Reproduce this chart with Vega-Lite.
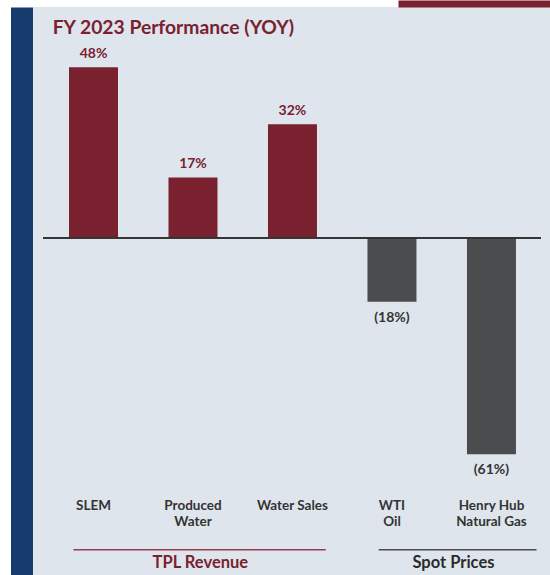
{
  "$schema": "https://vega.github.io/schema/vega-lite/v6.json",
  "width": 517,
  "height": 568,
  "autosize": {"type": "none"},
  "padding": {"left": 33, "top": 7, "right": 0, "bottom": 0},
  "background": "white",
  "config": {"view": {"fill": "#dfe5ed", "stroke": null}, "font": "Lato"},
  "datasets": {
    "bars": [
      {"metric": "SLEM", "name": "SLEM", "value": 48, "label": "48%", "group": "TPL Revenue"},
      {"metric": "Produced Water", "name": "Produced\nWater", "value": 17, "label": "17%", "group": "TPL Revenue"},
      {"metric": "Water Sales", "name": "Water Sales", "value": 32, "label": "32%", "group": "TPL Revenue"},
      {"metric": "WTI Oil", "name": "WTI\nOil", "value": -18, "label": "(18%)", "group": "Spot Prices"},
      {"metric": "Henry Hub Natural Gas", "name": "Henry Hub\nNatural Gas", "value": -61, "label": "(61%)", "group": "Spot Prices"}
    ],
    "groups": [
      {"group": "TPL Revenue", "first": "SLEM", "middle": "Produced Water", "last": "Water Sales"},
      {"group": "Spot Prices", "first": "WTI Oil", "middle": "WTI Oil", "last": "Henry Hub Natural Gas"}
    ],
    "heading": [
      {"anchor": "SLEM", "text": "FY 2023 Performance (YOY)"}
    ]
  },
  "layer": [
    {
      "data": {"name": "bars"},
      "mark": {"type": "bar"},
      "encoding": {
        "x": {
          "field": "metric",
          "type": "nominal",
          "sort": null,
          "scale": {
            "domain": ["SLEM", "Produced Water", "Water Sales", "WTI Oil", "Henry Hub Natural Gas"],
            "paddingInner": 0.5075,
            "paddingOuter": 0.352,
            "align": 0.514
          },
          "axis": {
            "orient": "top",
            "values": ["Henry Hub Natural Gas"],
            "labels": false,
            "domain": false,
            "grid": false,
            "title": null,
            "ticks": true,
            "tickSize": 7,
            "tickWidth": 152,
            "tickColor": "#7a2130",
            "tickOffset": -17.5
          }
        },
        "y": {
          "field": "value",
          "type": "quantitative",
          "scale": {"domain": [-95, 65], "nice": false, "zero": false},
          "axis": {
            "labels": false,
            "ticks": false,
            "grid": false,
            "title": null,
            "domainColor": "#163b6c",
            "domainWidth": 22,
            "offset": 11.5
          }
        },
        "color": {
          "field": "group",
          "type": "nominal",
          "scale": {"domain": ["TPL Revenue", "Spot Prices"], "range": ["#7a2130", "#4b4c4e"]},
          "legend": null
        }
      }
    },
    {
      "data": {"name": "heading"},
      "mark": {"type": "text", "align": "left", "baseline": "alphabetic", "fontSize": 19.3, "fontWeight": "bold", "color": "#7a2130", "font": "Lato"},
      "encoding": {
        "x": {"field": "anchor", "type": "nominal", "sort": null, "bandPosition": -0.333},
        "y": {"datum": 57.3},
        "text": {"field": "text"}
      }
    },
    {
      "data": {"name": "bars"},
      "transform": [{"filter": "datum.value >= 0"}],
      "mark": {"type": "text", "baseline": "alphabetic", "dy": -9, "fontSize": 14, "fontWeight": "bold", "color": "#7a2130", "font": "Lato"},
      "encoding": {
        "x": {"field": "metric", "type": "nominal", "sort": null},
        "y": {"field": "value", "type": "quantitative"},
        "text": {"field": "label"}
      }
    },
    {
      "data": {"name": "bars"},
      "transform": [{"filter": "datum.value < 0"}],
      "mark": {"type": "text", "baseline": "top", "dy": 9, "fontSize": 14, "fontWeight": "bold", "color": "#333333", "font": "Lato"},
      "encoding": {
        "x": {"field": "metric", "type": "nominal", "sort": null},
        "y": {"field": "value", "type": "quantitative"},
        "text": {"field": "label"}
      }
    },
    {
      "data": {"name": "bars"},
      "mark": {"type": "text", "baseline": "alphabetic", "lineBreak": "\n", "lineHeight": 15.5, "fontSize": 13.5, "fontWeight": "bold", "color": "#333333", "font": "Lato"},
      "encoding": {
        "x": {"field": "metric", "type": "nominal", "sort": null},
        "y": {"datum": -76.8},
        "text": {"field": "name"}
      }
    },
    {
      "data": {"name": "groups"},
      "transform": [{"filter": "datum.group == 'TPL Revenue'"}],
      "mark": {"type": "rule", "color": "#93404d", "strokeWidth": 1.5},
      "encoding": {
        "x": {"field": "first", "type": "nominal", "sort": null, "bandPosition": 0.09},
        "x2": {"field": "last", "bandPosition": 1.18},
        "y": {"datum": -87.9}
      }
    },
    {
      "data": {"name": "groups"},
      "transform": [{"filter": "datum.group == 'Spot Prices'"}],
      "mark": {"type": "rule", "color": "#4b4c4e", "strokeWidth": 1.5},
      "encoding": {
        "x": {"field": "first", "type": "nominal", "sort": null, "bandPosition": 0.23},
        "x2": {"field": "last", "bandPosition": 1.42},
        "y": {"datum": -87.9}
      }
    },
    {
      "data": {"name": "groups"},
      "transform": [{"filter": "datum.group == 'TPL Revenue'"}],
      "mark": {"type": "text", "baseline": "alphabetic", "fontSize": 16.5, "fontWeight": "bold", "color": "#7a2130", "font": "Lato"},
      "encoding": {
        "x": {"field": "middle", "type": "nominal", "sort": null, "bandPosition": 0.65},
        "y": {"datum": -93.1},
        "text": {"field": "group"}
      }
    },
    {
      "data": {"name": "groups"},
      "transform": [{"filter": "datum.group == 'Spot Prices'"}],
      "mark": {"type": "text", "baseline": "alphabetic", "fontSize": 16.5, "fontWeight": "bold", "color": "#2b2b2b", "font": "Lato"},
      "encoding": {
        "x": {"field": "middle", "type": "nominal", "sort": null, "bandPosition": 1.755},
        "y": {"datum": -93.1},
        "text": {"field": "group"}
      }
    },
    {
      "data": {"name": "bars"},
      "mark": {"type": "rule", "color": "#333333", "strokeWidth": 1.5},
      "encoding": {
        "x": {"datum": "SLEM", "bandPosition": -0.53},
        "x2": {"datum": "Henry Hub Natural Gas", "bandPosition": 1.51},
        "y": {"datum": 0}
      }
    }
  ]
}
